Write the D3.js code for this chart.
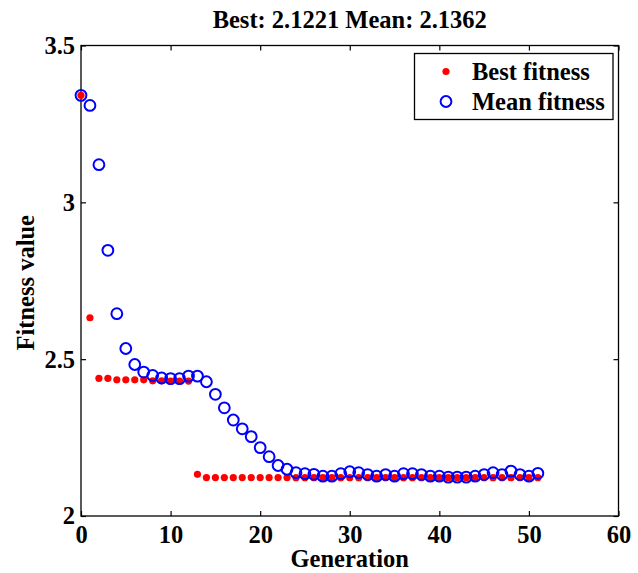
<!DOCTYPE html>
<html>
<head>
<meta charset="utf-8">
<script src="https://cdn.jsdelivr.net/npm/d3@7"></script>
<style>
  body { margin: 0; background: #fff; }
  svg text { font-family: "Liberation Serif", "Times New Roman", serif; font-weight: bold; fill: #000; }
</style>
</head>
<body>
<svg id="chart" width="638" height="573"></svg>
<script>
// generation index, best and mean fitness
const generations = d3.range(0, 52)
const bestFitness = [3.341, 2.632, 2.439, 2.439, 2.434, 2.434, 2.434, 2.434, 2.431, 2.431,
    2.430, 2.430, 2.430, 2.133, 2.1225, 2.1225, 2.1225, 2.1225, 2.1225, 2.1224,
    2.1224, 2.1224, 2.1224, 2.1224, 2.1223, 2.1223, 2.1223, 2.1223, 2.1223, 2.1223,
    2.1222, 2.1222, 2.1222, 2.1222, 2.1222, 2.1222, 2.1222, 2.1222, 2.1222, 2.1222,
    2.1221, 2.1221, 2.1221, 2.1221, 2.1221, 2.1221, 2.1221, 2.1221, 2.1221, 2.1221,
    2.1221, 2.1221]
const meanFitness = [3.341, 3.309, 3.120, 2.847, 2.645, 2.534, 2.483, 2.459, 2.448, 2.440,
    2.438, 2.438, 2.446, 2.446, 2.428, 2.388, 2.345, 2.306, 2.278, 2.253,
    2.218, 2.189, 2.161, 2.149, 2.138, 2.135, 2.133, 2.127, 2.127, 2.135,
    2.141, 2.138, 2.132, 2.127, 2.132, 2.127, 2.135, 2.135, 2.132, 2.127,
    2.127, 2.124, 2.124, 2.124, 2.127, 2.132, 2.138, 2.132, 2.143, 2.132,
    2.127, 2.1362]
const xTicks = [0, 10, 20, 30, 40, 50, 60]
const yTicks = [2, 2.5, 3, 3.5]
const legendNames = ["Best fitness", "Mean fitness"]

const svg = d3.select('#chart')
const pLeft = 81, pRight = 618.5, pTop = 45.5, pBottom = 516
const fs = 24.5

const x = d3.scaleLinear().domain([0, 60]).range([pLeft, pRight])
const y = d3.scaleLinear().domain([2, 3.5]).range([pBottom, pTop])

// ticks inside the box, all four sides
const tickLen = 5
const axisStyle = g => {
    g.select('.domain').remove()
    g.selectAll('.tick line').attr('stroke', '#000').attr('stroke-width', 1.2)
    g.selectAll('.tick text').style('font-size', fs + 'px').attr('fill', '#000')
}
svg.append('g').attr('transform', `translate(0,${pBottom})`)
    .call(d3.axisBottom(x).tickValues(xTicks).tickSize(-tickLen).tickPadding(10).tickFormat(d3.format('d')))
    .call(axisStyle)
svg.append('g').attr('transform', `translate(0,${pTop})`)
    .call(d3.axisTop(x).tickValues(xTicks).tickSize(-tickLen).tickFormat(''))
    .call(axisStyle)
svg.append('g').attr('transform', `translate(${pLeft},0)`)
    .call(d3.axisLeft(y).tickValues(yTicks).tickSize(-tickLen).tickPadding(6).tickFormat(d => d))
    .call(axisStyle)
svg.append('g').attr('transform', `translate(${pRight},0)`)
    .call(d3.axisRight(y).tickValues(yTicks).tickSize(-tickLen).tickFormat(''))
    .call(axisStyle)

svg.append('rect')
    .attr('x', pLeft).attr('y', pTop)
    .attr('width', pRight - pLeft).attr('height', pBottom - pTop)
    .attr('fill', 'none').attr('stroke', '#000').attr('stroke-width', 1.3)

// points
svg.append('g').selectAll('circle')
    .data(generations)
    .enter().append('circle')
    .attr('cx', d => x(d))
    .attr('cy', d => y(bestFitness[d]))
    .attr('r', 3.6)
    .attr('fill', '#ff0000')

svg.append('g').selectAll('circle')
    .data(generations)
    .enter().append('circle')
    .attr('cx', d => x(d))
    .attr('cy', d => y(meanFitness[d]))
    .attr('r', 5.4)
    .attr('fill', 'none')
    .attr('stroke', '#0000ff')
    .attr('stroke-width', 2)

// title and labels
svg.append('text')
    .attr('x', (pLeft + pRight) / 2).attr('y', 28)
    .attr('text-anchor', 'middle')
    .style('font-size', fs + 'px')
    .text(`Best: ${bestFitness[bestFitness.length - 1].toFixed(4)} Mean: ${meanFitness[meanFitness.length - 1].toFixed(4)}`)

svg.append('text')
    .attr('x', (pLeft + pRight) / 2).attr('y', 567)
    .attr('text-anchor', 'middle')
    .style('font-size', fs + 'px')
    .text('Generation')

svg.append('text')
    .attr('transform', `translate(34,${(pTop + pBottom) / 2 + 2}) rotate(-90)`)
    .attr('text-anchor', 'middle')
    .style('font-size', fs + 'px')
    .text('Fitness value')

// legend
const lg = svg.append('g')
lg.append('rect')
    .attr('x', 414.5).attr('y', 53.5).attr('width', 198.5).attr('height', 66)
    .attr('fill', '#fff').attr('stroke', '#000').attr('stroke-width', 1.3)
lg.append('circle').attr('cx', 446).attr('cy', 71.5).attr('r', 3.6).attr('fill', '#ff0000')
lg.append('circle').attr('cx', 446).attr('cy', 101.5).attr('r', 5.4)
    .attr('fill', 'none').attr('stroke', '#0000ff').attr('stroke-width', 2)
lg.selectAll('.lt')
    .data(legendNames)
    .enter().append('text')
    .attr('class', 'lt')
    .attr('x', 472)
    .attr('y', (d, i) => 80 + i * 30)
    .style('font-size', fs + 'px')
    .text(d => d)
</script>
</body>
</html>
